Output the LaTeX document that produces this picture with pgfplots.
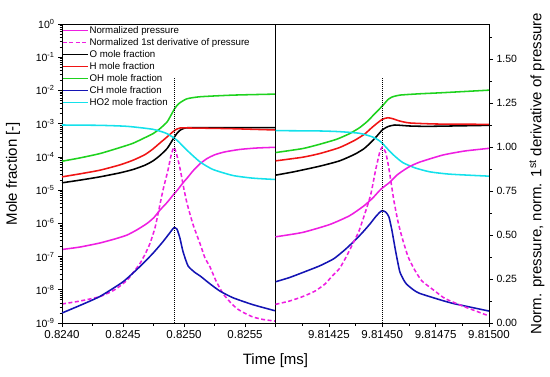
\documentclass[border=0pt]{standalone}
\usepackage{pgfplots}
\pgfplotsset{compat=1.18}
\usepackage{fontspec}
\setmainfont{Liberation Sans}
\definecolor{cMag}{RGB}{238,30,225}
\definecolor{cRed}{RGB}{240,20,20}
\definecolor{cGreen}{RGB}{30,210,30}
\definecolor{cBlue}{RGB}{20,20,180}
\definecolor{cCyan}{RGB}{20,225,235}
\pgfplotsset{
  panel/.style={width=213.5pt, height=299pt, scale only axis,
    /pgf/number format/assume math mode=true,
    tick align=outside, major tick length=4pt, minor tick length=2.5pt,
    every tick/.style={black, line width=0.6pt},
    axis line style={line width=0.8pt},
    xticklabel style={font=\fontsize{11.5}{12}\selectfont},
    yticklabel style={font=\fontsize{10.5}{12}\selectfont},
    every axis plot/.append style={line width=1.55pt, smooth, tension=0.35},
  },
  dashd/.style={dash pattern=on 4pt off 2.5pt},
  dotv/.style={black, line width=1pt, dash pattern=on 1pt off 1pt, sharp plot},
}
\begin{document}
\begin{tikzpicture}
\path[use as bounding box] (-62pt,-53pt) rectangle (488pt,323pt);
% ---------- left panel, pressure (right scale, hidden) ----------
\begin{axis}[panel, at={(0pt,0pt)}, anchor=south west, hide axis,
  xmin=0.824, xmax=0.82575, ymin=0, ymax=1.7]
\addplot[cMag] coordinates {(0.824000,0.418) (0.824148,0.432) (0.824311,0.455) (0.824434,0.478) (0.824533,0.500) (0.824615,0.530) (0.824697,0.566) (0.824754,0.600) (0.824803,0.642) (0.824861,0.685) (0.824910,0.727) (0.824951,0.760) (0.824992,0.797) (0.825033,0.830) (0.825074,0.865) (0.825131,0.905) (0.825189,0.935) (0.825254,0.957) (0.825336,0.973) (0.825459,0.987) (0.825598,0.995) (0.825746,0.999)};
\addplot[cMag, dashd] coordinates {(0.824000,0.108) (0.824148,0.125) (0.824311,0.150) (0.824434,0.190) (0.824533,0.243) (0.824598,0.300) (0.824639,0.338) (0.824680,0.390) (0.824721,0.452) (0.824762,0.540) (0.824787,0.620) (0.824828,0.756) (0.824869,0.870) (0.824893,0.950) (0.824918,1.000) (0.824943,0.950) (0.824967,0.880) (0.825000,0.760) (0.825025,0.680) (0.825074,0.560) (0.825131,0.452) (0.825172,0.370) (0.825213,0.319) (0.825262,0.240) (0.825320,0.167) (0.825377,0.120) (0.825434,0.082) (0.825500,0.055) (0.825566,0.034) (0.825648,0.020) (0.825746,0.011)};
\end{axis}
% ---------- left panel, mole fractions ----------
\begin{axis}[panel, at={(0pt,0pt)}, anchor=south west, ymode=log,
  xmin=0.824, xmax=0.82575, ymin=1e-9, ymax=1,
  xtick={0.824,0.8245,0.825,0.8255}, xticklabels={0.8240,0.8245,0.8250,0.8255},
  minor xtick={0.82425,0.82475,0.82525},
  ytick={1e-9,1e-8,1e-7,1e-6,1e-5,1e-4,1e-3,1e-2,1e-1,1},
  yticklabels={10\textsuperscript{-9},10\textsuperscript{-8},10\textsuperscript{-7},10\textsuperscript{-6},10\textsuperscript{-5},10\textsuperscript{-4},10\textsuperscript{-3},10\textsuperscript{-2},10\textsuperscript{-1},10\textsuperscript{0}},
  minor ytick={2e-9,3e-9,4e-9,5e-9,6e-9,7e-9,8e-9,9e-9,2e-8,3e-8,4e-8,5e-8,6e-8,7e-8,8e-8,9e-8,2e-7,3e-7,4e-7,5e-7,6e-7,7e-7,8e-7,9e-7,2e-6,3e-6,4e-6,5e-6,6e-6,7e-6,8e-6,9e-6,2e-5,3e-5,4e-5,5e-5,6e-5,7e-5,8e-5,9e-5,2e-4,3e-4,4e-4,5e-4,6e-4,7e-4,8e-4,9e-4,2e-3,3e-3,4e-3,5e-3,6e-3,7e-3,8e-3,9e-3,2e-2,3e-2,4e-2,5e-2,6e-2,7e-2,8e-2,9e-2,2e-1,3e-1,4e-1,5e-1,6e-1,7e-1,8e-1,9e-1},
  xtick pos=bottom, ytick pos=left,
  ylabel={Mole fraction [-]},
  every axis y label/.style={at={(axis description cs:0,0.5)}, xshift=-49pt, rotate=90, anchor=center, font=\fontsize{15}{16}\selectfont},
  xlabel={Time [ms]},
  every axis x label/.style={at={(axis description cs:1,0)}, yshift=-38pt, anchor=center, font=\fontsize{15}{16}\selectfont},
  legend style={at={(0,1)}, anchor=north west, draw=none, fill=none, inner sep=0pt, outer sep=0pt, yshift=-2pt,
    font=\fontsize{9.7}{11}\selectfont, nodes={inner xsep=1pt, inner ysep=0pt, text height=7.2pt, text depth=2.2pt},
    row sep=2.6pt, cells={anchor=west}},
  legend image code/.code={\draw[#1] (0pt,0pt) -- (25pt,0pt);},
]
\addlegendimage{cMag, line width=1.55pt}
\addlegendentry{Normalized pressure}
\addlegendimage{cMag, line width=1.55pt, dashd}
\addlegendentry{Normalized 1st derivative of pressure}
\addplot[black] coordinates {(0.824000,1.66e-5) (0.824148,2.00e-5) (0.824311,2.51e-5) (0.824475,3.31e-5) (0.824582,4.17e-5) (0.824680,5.62e-5) (0.824746,7.59e-5) (0.824803,1.10e-4) (0.824861,1.78e-4) (0.824893,2.69e-4) (0.824918,3.80e-4) (0.824943,5.13e-4) (0.824967,6.31e-4) (0.825000,7.24e-4) (0.825049,7.59e-4) (0.825377,7.59e-4) (0.825746,7.59e-4)};
\addlegendentry{O mole fraction}
\addplot[cRed] coordinates {(0.824000,2.51e-5) (0.824148,3.09e-5) (0.824311,3.98e-5) (0.824475,5.75e-5) (0.824582,7.94e-5) (0.824680,1.17e-4) (0.824746,1.74e-4) (0.824803,2.63e-4) (0.824861,3.98e-4) (0.824910,5.75e-4) (0.824943,6.92e-4) (0.824967,7.41e-4) (0.825049,7.41e-4) (0.825377,7.08e-4) (0.825746,6.46e-4)};
\addlegendentry{H mole fraction}
\addplot[cGreen] coordinates {(0.824000,7.41e-5) (0.824148,9.33e-5) (0.824311,1.26e-4) (0.824475,1.91e-4) (0.824582,2.57e-4) (0.824680,3.80e-4) (0.824746,5.01e-4) (0.824803,7.08e-4) (0.824861,1.12e-3) (0.824885,1.58e-3) (0.824918,2.63e-3) (0.824943,3.55e-3) (0.824967,4.27e-3) (0.825025,5.62e-3) (0.825131,6.46e-3) (0.825402,7.24e-3) (0.825746,7.76e-3)};
\addlegendentry{OH mole fraction}
\addplot[cBlue] coordinates {(0.824000,2.00e-9) (0.824148,3.39e-9) (0.824311,6.31e-9) (0.824500,1.74e-8) (0.824639,5.01e-8) (0.824746,1.26e-7) (0.824828,2.82e-7) (0.824885,5.25e-7) (0.824918,7.41e-7) (0.824943,6.61e-7) (0.824967,3.55e-7) (0.824992,1.41e-7) (0.825033,5.25e-8) (0.825090,3.31e-8) (0.825131,2.63e-8) (0.825213,1.51e-8) (0.825295,9.12e-9) (0.825402,5.75e-9) (0.825566,3.55e-9) (0.825746,2.34e-9)};
\addlegendentry{CH mole fraction}
\addplot[cCyan] coordinates {(0.824000,9.12e-4) (0.824311,8.91e-4) (0.824533,8.32e-4) (0.824746,6.76e-4) (0.824861,5.01e-4) (0.824943,3.16e-4) (0.825025,1.58e-4) (0.825131,7.08e-5) (0.825238,4.17e-5) (0.825402,2.75e-5) (0.825566,2.29e-5) (0.825746,2.09e-5)};
\addlegendentry{HO2 mole fraction}
\addplot[dotv, forget plot] coordinates {(0.82492,1e-9) (0.82492,0.0235)};
\end{axis}
% ---------- right panel, mole fractions (x: ns after 9.814 ms) ----------
\begin{axis}[panel, at={(213.5pt,0pt)}, anchor=south west, ymode=log,
  xmin=0, xmax=1000, ymin=1e-9, ymax=1,
  xtick={0,250,500,750,1000}, xticklabels={,9.81425,9.81450,9.81475,9.81500},
  minor xtick={125,375,625,875},
  ytick=\empty, xtick pos=bottom]
\addplot[black] coordinates {(0,2.82e-5) (85,3.55e-5) (207,5.25e-5) (300,7.59e-5) (371,1.20e-4) (413,1.74e-4) (441,2.51e-4) (474,4.17e-4) (500,6.46e-4) (526,8.13e-4) (559,9.12e-4) (629,8.51e-4) (723,8.32e-4) (1000,8.91e-4)};
\addplot[cRed] coordinates {(0,7.59e-5) (127,9.77e-5) (207,1.26e-4) (300,1.91e-4) (371,3.16e-4) (418,4.90e-4) (451,7.59e-4) (479,1.07e-3) (500,1.35e-3) (526,1.51e-3) (549,1.41e-3) (582,1.20e-3) (629,1.05e-3) (756,9.77e-4) (1000,9.55e-4)};
\addplot[cGreen] coordinates {(0,1.35e-4) (127,1.78e-4) (207,2.40e-4) (286,3.39e-4) (347,5.01e-4) (394,7.59e-4) (432,1.20e-3) (465,2.00e-3) (488,2.82e-3) (507,3.80e-3) (526,5.25e-3) (545,6.31e-3) (582,7.24e-3) (676,7.94e-3) (775,8.51e-3) (1000,1.02e-2)};
\addplot[cBlue] coordinates {(0,1.74e-8) (66,2.34e-8) (136,3.47e-8) (207,5.25e-8) (272,8.51e-8) (324,1.58e-7) (366,2.82e-7) (404,5.01e-7) (441,9.33e-7) (469,1.58e-6) (488,2.14e-6) (500,2.40e-6) (516,2.19e-6) (531,1.58e-6) (545,6.31e-7) (563,1.41e-7) (582,3.55e-8) (601,1.95e-8) (615,1.45e-8) (648,9.77e-9) (676,7.76e-9) (775,4.90e-9) (831,3.89e-9) (911,3.02e-9) (1000,2.29e-9)};
\addplot[cCyan] coordinates {(0,6.17e-4) (207,6.03e-4) (300,5.75e-4) (394,5.13e-4) (455,3.98e-4) (488,3.02e-4) (512,2.14e-4) (535,1.48e-4) (559,1.05e-4) (596,6.76e-5) (653,4.68e-5) (723,3.55e-5) (817,3.02e-5) (1000,2.63e-5)};
\addplot[dotv] coordinates {(500,1e-9) (500,0.0235)};
\end{axis}
% ---------- right panel, pressure (right scale) ----------
\begin{axis}[panel, at={(213.5pt,0pt)}, anchor=south west,
  xmin=0, xmax=1000, ymin=0, ymax=1.7,
  axis x line=none, axis y line*=right,
  ytick={0,0.25,0.5,0.75,1,1.25,1.5},
  minor ytick={0.125,0.375,0.625,0.875,1.125,1.375,1.625},
  yticklabel style={/pgf/number format/.cd, fixed, fixed zerofill, precision=2},
  ylabel={Norm. pressure, norm. 1\textsuperscript{st} derivative of pressure},
  every axis y label/.style={at={(axis description cs:1,0.5)}, xshift=48pt, rotate=90, anchor=center, font=\fontsize{15}{16}\selectfont},
]
\addplot[cMag] coordinates {(0,0.49) (127,0.515) (254,0.56) (347,0.61) (413,0.665) (455,0.71) (493,0.76) (535,0.80) (568,0.84) (596,0.865) (629,0.89) (676,0.915) (784,0.955) (887,0.978) (1000,0.993)};
\addplot[cMag, dashd] coordinates {(0,0.106) (66,0.125) (127,0.150) (183,0.180) (230,0.220) (268,0.270) (300,0.310) (333,0.380) (362,0.450) (390,0.520) (418,0.620) (446,0.730) (469,0.870) (488,0.970) (500,1.000) (516,0.970) (531,0.880) (554,0.700) (573,0.580) (592,0.490) (620,0.380) (648,0.310) (685,0.240) (742,0.186) (793,0.140) (869,0.100) (934,0.070) (1000,0.040)};
\end{axis}
\end{tikzpicture}
\end{document}
